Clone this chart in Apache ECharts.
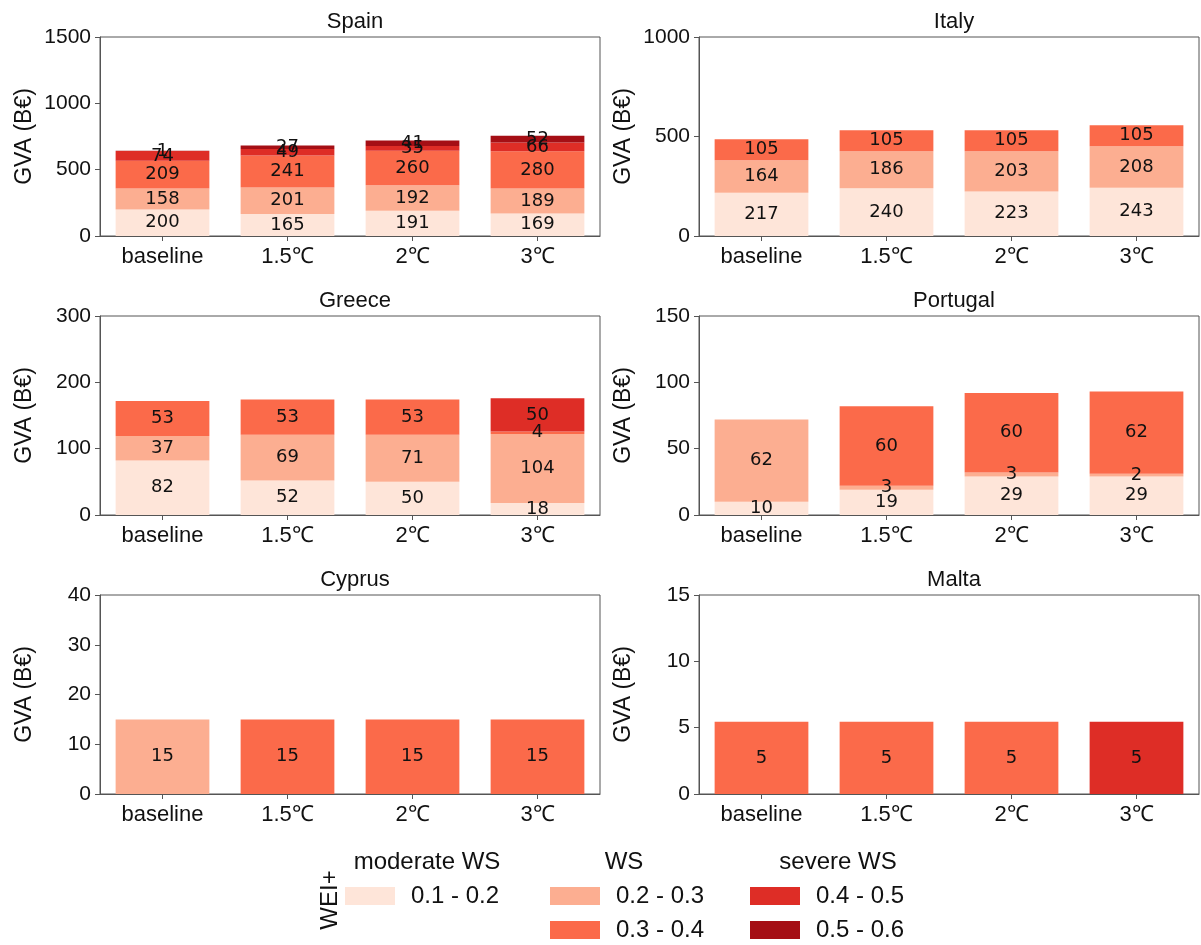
<!DOCTYPE html>
<html>
<head>
<meta charset="utf-8">
<script src="https://cdn.jsdelivr.net/npm/echarts@6/dist/echarts.min.js"></script>
<style>html,body{margin:0;padding:0;background:#fff;}#c{width:1201px;height:945px;}</style>
</head>
<body>
<div id="c"></div>
<script>
const categories = ['baseline', '1.5℃', '2℃', '3℃'];
const bands = ['0.1 - 0.2', '0.2 - 0.3', '0.3 - 0.4', '0.4 - 0.5', '0.5 - 0.6'];
const bandColors = ['#fee5d9', '#fcae91', '#fb6a4a', '#de2d26', '#a50f15'];
const countries = ['Spain', 'Italy', 'Greece', 'Portugal', 'Cyprus', 'Malta'];
const yMax = [1500, 1000, 300, 150, 40, 15];
const yStep = [500, 500, 100, 50, 10, 5];

// values per band (rows) for each category (columns), B€
const spain    = [[200, 165, 191, 169], [158, 201, 192, 189], [209, 241, 260, 280], [74, 49, 35, 66], [1, 27, 41, 52]];
const italy    = [[217, 240, 223, 243], [164, 186, 203, 208], [105, 105, 105, 105], [0, 0, 0, 0], [0, 0, 0, 0]];
const greece   = [[82, 52, 50, 18], [37, 69, 71, 104], [53, 53, 53, 4], [0, 0, 0, 50], [0, 0, 0, 0]];
const portugal = [[10, 19, 29, 29], [62, 3, 3, 2], [0, 60, 60, 62], [0, 0, 0, 0], [0, 0, 0, 0]];
const cyprus   = [[0, 0, 0, 0], [15, 0, 0, 0], [0, 15, 15, 15], [0, 0, 0, 0], [0, 0, 0, 0]];
const malta    = [[0, 0, 0, 0], [0, 0, 0, 0], [5.45, 5.45, 5.45, 0], [0, 0, 0, 5.45], [0, 0, 0, 0]];
const countryData = [spain, italy, greece, portugal, cyprus, malta];

const FONT = 'Liberation Sans';
const colLeft = [100, 699];
const rowTop = [37, 316, 595];
const W = 500, H = 199;

const grids = [], xAxes = [], yAxes = [], titles = [], series = [];
countries.forEach((name, g) => {
  const col = g % 2, row = Math.floor(g / 2);
  grids.push({left: colLeft[col], top: rowTop[row], width: W, height: H, show: true,
    borderColor: '#555', borderWidth: 1, backgroundColor: 'transparent'});
  titles.push({text: name, left: colLeft[col] + W / 2, top: rowTop[row] - 31, textAlign: 'center',
    textStyle: {fontFamily: FONT, fontSize: 22, fontWeight: 'normal', color: '#111'}});
  xAxes.push({type: 'category', gridIndex: g, data: categories,
    axisLine: {show: true, lineStyle: {color: '#555'}},
    axisTick: {show: true, alignWithLabel: true, length: 5, lineStyle: {color: '#555'}},
    axisLabel: {fontFamily: FONT, fontSize: 22, color: '#111', margin: 10},
    splitLine: {show: false}});
  yAxes.push({type: 'value', gridIndex: g, min: 0, max: yMax[g], interval: yStep[g],
    name: 'GVA (B€)', nameLocation: 'middle', nameGap: 64, nameRotate: 90,
    nameTextStyle: {fontFamily: FONT, fontSize: 23, color: '#111'},
    axisLine: {show: true, lineStyle: {color: '#555'}},
    axisTick: {show: true, length: 5, lineStyle: {color: '#555'}},
    axisLabel: {fontFamily: FONT, fontSize: 21, color: '#111', margin: 9, formatter: v => String(v)},
    splitLine: {show: false}});
  countryData[g].forEach((vals, b) => {
    series.push({type: 'bar', name: bands[b], stack: 's' + g, xAxisIndex: g, yAxisIndex: g,
      data: vals, barWidth: '75%', itemStyle: {color: bandColors[b]},
      emphasis: {disabled: true},
      label: {show: true, position: 'inside', fontFamily: 'DejaVu Sans', fontSize: 18, color: '#111',
        formatter: p => (p.value > 0 ? String(Math.round(p.value)) : '')}});
  });
});

const legendBase = {orient: 'vertical', itemWidth: 50, itemHeight: 18, itemGap: 10, selectedMode: false,
  padding: 0, height: 120, icon: 'rect',
  textStyle: {fontFamily: FONT, fontSize: 24, color: '#111', padding: [0, 0, 0, 11]}};
const legends = [
  Object.assign({}, legendBase, {data: [bands[0]], left: 345, top: 884}),
  Object.assign({}, legendBase, {data: [bands[1], bands[2]], left: 550, top: 884}),
  Object.assign({}, legendBase, {data: [bands[3], bands[4]], left: 750, top: 884})
];

const legendTitles = [
  {text: 'moderate WS', x: 427},
  {text: 'WS', x: 624},
  {text: 'severe WS', x: 838}
];
const graphics = legendTitles.map(t => ({type: 'text', x: t.x, y: 862,
  style: {text: t.text, font: '24px "' + FONT + '"', fill: '#111', textAlign: 'center', textVerticalAlign: 'middle'}}));
graphics.push({type: 'text', x: 330, y: 900, rotation: Math.PI / 2,
  style: {text: 'WEI+', font: '24px "' + FONT + '"', fill: '#111', textAlign: 'center', textVerticalAlign: 'middle'}});

const chart = echarts.init(document.getElementById('c'), null, {renderer: 'canvas'});
chart.setOption({
  animation: false,
  backgroundColor: '#fff',
  title: titles,
  grid: grids,
  xAxis: xAxes,
  yAxis: yAxes,
  legend: legends,
  graphic: graphics,
  series: series
});
</script>
</body>
</html>
